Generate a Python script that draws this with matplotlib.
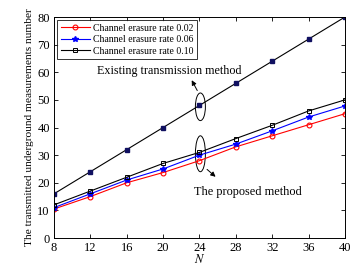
import matplotlib
matplotlib.use("Agg")
import matplotlib.pyplot as plt
from matplotlib.patches import Ellipse

plt.rcParams['font.family'] = ['Liberation Serif', 'DejaVu Serif']
plt.rcParams['mathtext.fontset'] = 'stix'

N = [8, 12, 16, 20, 24, 28, 32, 36, 40]
existing = [16, 24, 32, 40, 48, 56, 64, 72, 80]
rate_002 = [10.5, 15, 20, 23.7, 28, 33, 37, 41, 45]
rate_006 = [11, 16, 21, 25, 30, 34, 38.8, 43.8, 47.8]
rate_010 = [12, 17, 22, 27, 31, 36, 40.8, 46, 50]
labels = ["Channel erasure rate 0.02", "Channel erasure rate 0.06", "Channel erasure rate 0.10"]

fig = plt.figure(figsize=(3.61, 2.70), dpi=100)
ax = fig.add_axes([0.1496, 0.1185, 0.806, 0.8185])

ax.plot(N, existing, color='black', lw=0.8, marker='s', ms=3.5,
        mfc='#101060', mec='#101060')
ax.plot(N, rate_002, color='red', lw=0.8, marker='o', ms=3.5, mfc='none', mew=0.8, label=labels[0])
ax.plot(N, rate_006, color='blue', lw=0.8, marker='*', ms=4, mfc='blue', label=labels[1])
ax.plot(N, rate_010, color='black', lw=0.8, marker='s', ms=3.5, mfc='none', mew=0.7, label=labels[2])

ax.set_xlim(8, 40)
ax.set_ylim(0, 80)
ax.set_xticks(N)
ax.set_yticks(range(0, 81, 10))
ax.tick_params(direction='in', top=True, right=True, labelsize=9, length=3, width=0.6, pad=3)
for s in ax.spines.values():
    s.set_linewidth(0.7)

ax.set_xlabel("$N$", fontsize=9, labelpad=-1)
ax.set_ylabel("The transmitted underground measurements number", fontsize=8.2, labelpad=2)

leg = ax.legend(loc='upper left', fontsize=7, frameon=True, fancybox=False,
                edgecolor='black', handlelength=3.0, handletextpad=0.3,
                borderpad=0.35, labelspacing=0.25, borderaxespad=0.35)
leg.get_frame().set_linewidth(0.7)

ax.add_patch(Ellipse((24.1, 47.5), 1.1, 10, fill=False, lw=0.7, color='black'))
ax.add_patch(Ellipse((24.1, 30.5), 1.1, 13, fill=False, lw=0.7, color='black'))
ax.annotate("", xy=(23.0, 58.0), xytext=(23.9, 52.5),
            arrowprops=dict(arrowstyle='-|>', color='black', lw=0.7, mutation_scale=7))
ax.annotate("", xy=(26.0, 21.5), xytext=(24.6, 25.5),
            arrowprops=dict(arrowstyle='-|>', color='black', lw=0.7, mutation_scale=7))
ax.text(20.7, 60.5, "Existing transmission method", fontsize=8.7, ha='center', va='center')
ax.text(29.3, 16.7, "The proposed method", fontsize=8.8, ha='center', va='center')

fig.savefig("out.png", dpi=100)
